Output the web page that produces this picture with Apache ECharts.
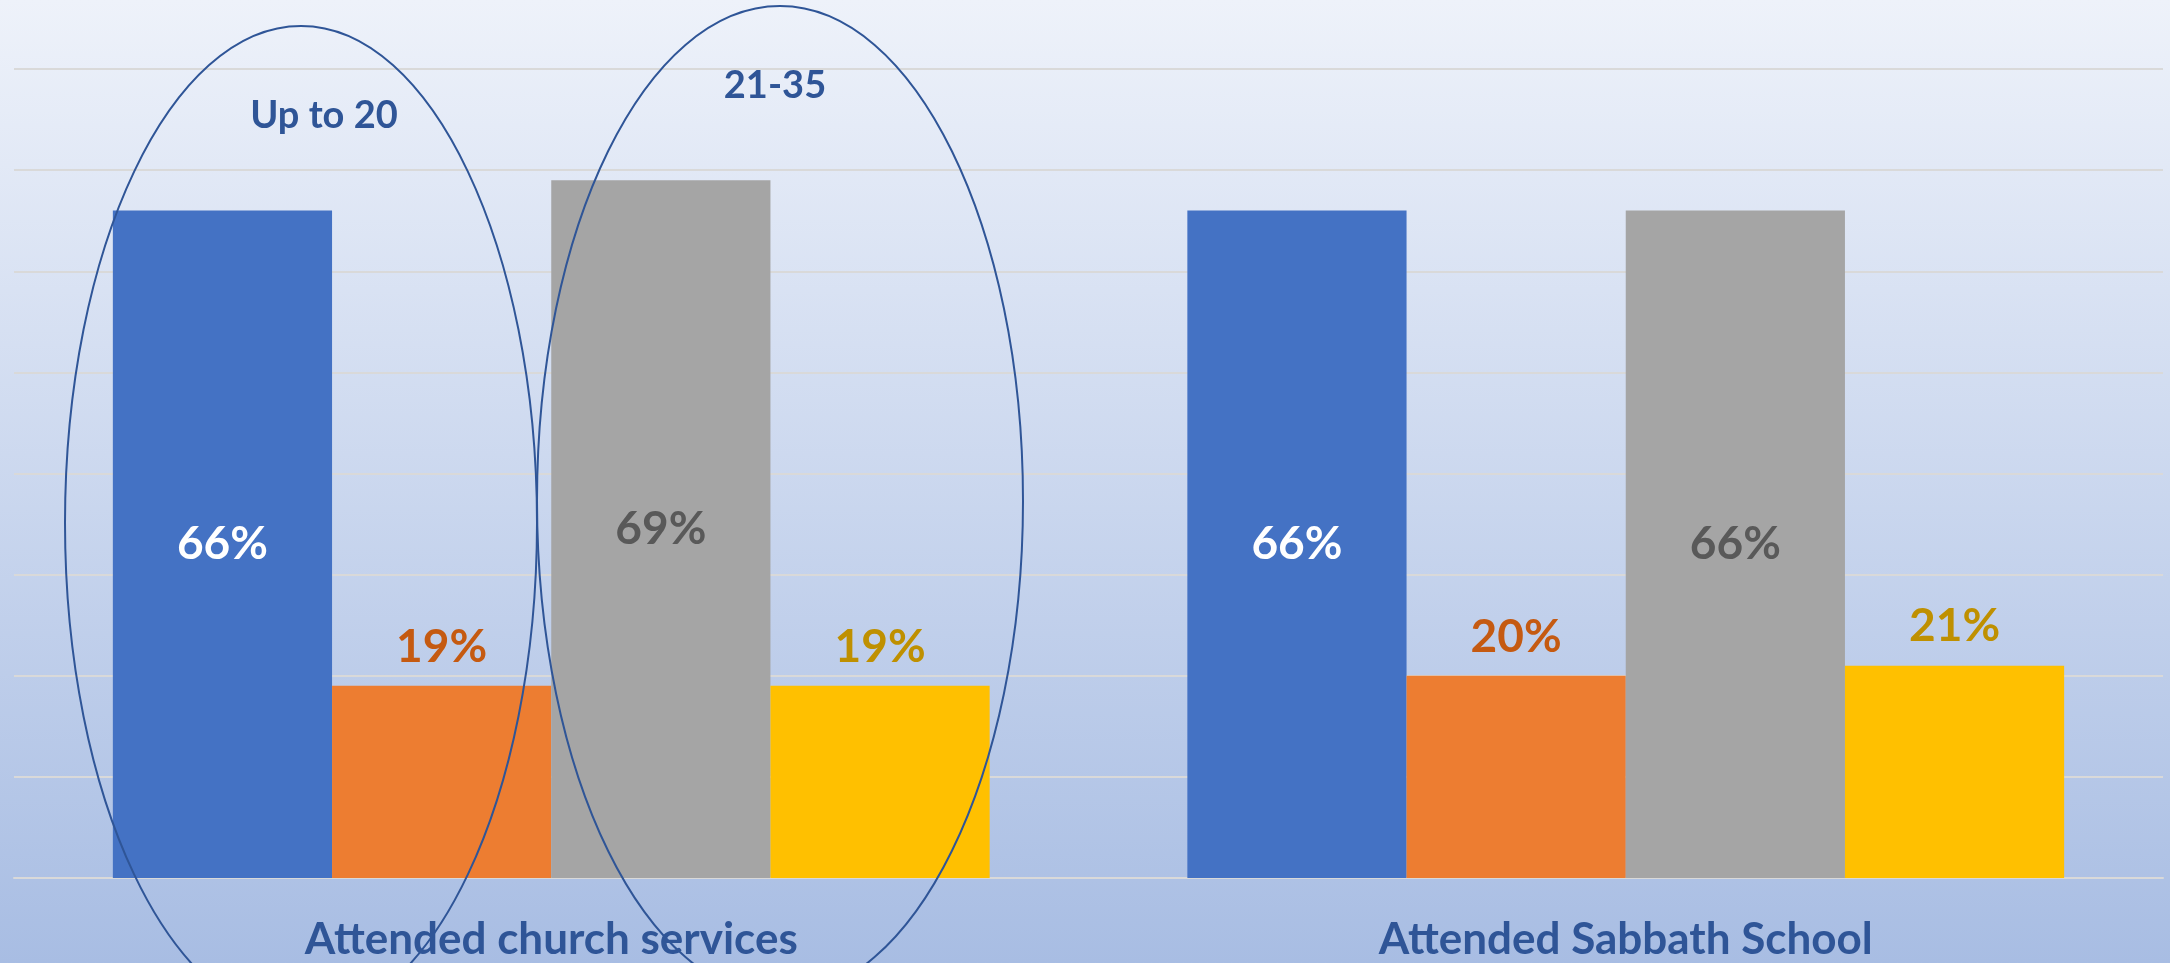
<!DOCTYPE html>
<html>
<head>
<meta charset="utf-8">
<script src="https://cdn.jsdelivr.net/npm/echarts@6/dist/echarts.min.js"></script>
<style>
  html, body { margin: 0; padding: 0; }
  body { background: linear-gradient(to bottom, #eef2fa 0%, #a8bde3 100%); }
  #box { width: 2170px; height: 963px; }
</style>
</head>
<body>
<div id="box"></div>
<script>
const categories = ['Attended church services', 'Attended Sabbath School'];
const upTo20Yes = [66, 66];
const upTo20No = [19, 20];
const age21to35Yes = [69, 66];
const age21to35No = [19, 21];
const seriesNames = ['Up to 20 (blue)', 'Up to 20 (orange)', '21-35 (gray)', '21-35 (yellow)'];

const textBlue = '#2f5597';
const font = 'Lato';

const chartDom = document.getElementById('box');
const myChart = echarts.init(chartDom);

const barLabel = (pos, color, dist) => ({
  show: true,
  position: pos,
  distance: dist,
  formatter: '{c}%',
  color: color,
  fontFamily: font,
  fontWeight: 'bold',
  fontSize: 46
});

var option = {
  backgroundColor: 'transparent',
  animation: false,
  grid: { left: 14, right: 7, top: 69, bottom: 85 },
  xAxis: {
    type: 'category',
    data: categories,
    axisTick: { show: false },
    axisLine: { lineStyle: { color: '#d9d9d9', width: 2 } },
    axisLabel: {
      color: textBlue,
      fontFamily: font,
      fontWeight: 'bold',
      fontSize: 44,
      margin: 40
    }
  },
  yAxis: {
    type: 'value',
    min: 0,
    max: 80,
    interval: 10,
    axisLabel: { show: false },
    axisLine: { show: false },
    axisTick: { show: false },
    splitLine: { lineStyle: { color: '#d9d9d9', width: 2 } }
  },
  series: [
    {
      name: seriesNames[0], type: 'bar', data: upTo20Yes,
      barGap: '0%', barCategoryGap: '18.4%',
      itemStyle: { color: '#4472c4' },
      label: barLabel('inside', '#ffffff', 5)
    },
    {
      name: seriesNames[1], type: 'bar', data: upTo20No,
      itemStyle: { color: '#ed7d31' },
      label: barLabel('top', '#c55a11', 16)
    },
    {
      name: seriesNames[2], type: 'bar', data: age21to35Yes,
      itemStyle: { color: '#a5a5a5' },
      label: barLabel('inside', '#595959', 5)
    },
    {
      name: seriesNames[3], type: 'bar', data: age21to35No,
      itemStyle: { color: '#ffc000' },
      label: barLabel('top', '#bf9000', 16)
    }
  ],
  graphic: [
    {
      type: 'ellipse', z: 100, silent: true,
      shape: { cx: 301, cy: 523, rx: 236, ry: 497 },
      style: { fill: 'none', stroke: textBlue, lineWidth: 2 }
    },
    {
      type: 'ellipse', z: 100, silent: true,
      shape: { cx: 780, cy: 501, rx: 243, ry: 495 },
      style: { fill: 'none', stroke: textBlue, lineWidth: 2 }
    },
    {
      type: 'text', z: 100, x: 324, y: 116,
      style: { text: 'Up to 20', fill: textBlue, font: 'bold 38px Lato', align: 'center', verticalAlign: 'middle' }
    },
    {
      type: 'text', z: 100, x: 775, y: 86,
      style: { text: '21-35', fill: textBlue, font: 'bold 38px Lato', align: 'center', verticalAlign: 'middle' }
    }
  ]
};
option && myChart.setOption(option);
window.addEventListener('resize', function () {
  if (myChart) {
    myChart.resize();
  }
});
</script>
</body>
</html>
